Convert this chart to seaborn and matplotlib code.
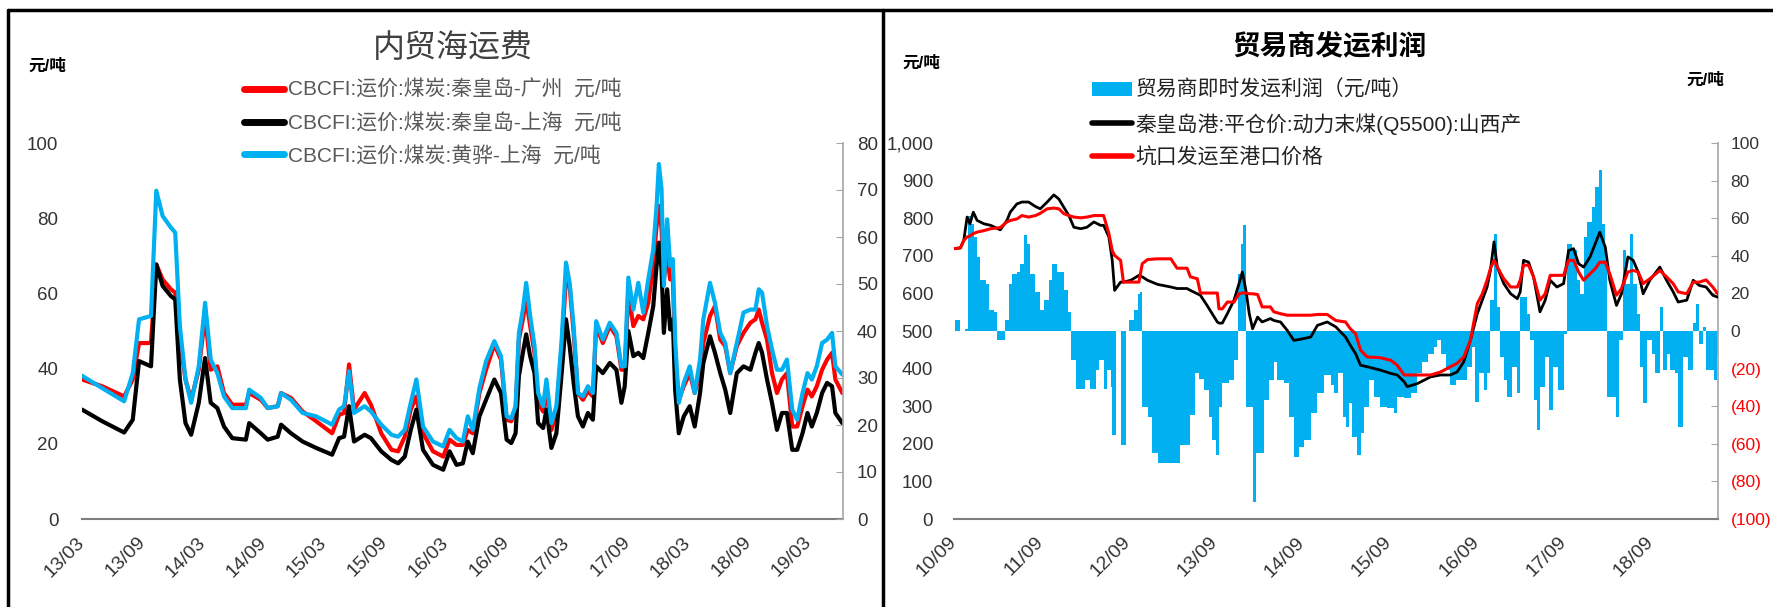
import matplotlib
matplotlib.use("Agg")
import matplotlib.pyplot as plt
import matplotlib.dates as mdates
from matplotlib.lines import Line2D
from matplotlib.patches import Patch
from matplotlib.ticker import FuncFormatter, MultipleLocator
import numpy as np
import pandas as pd
import seaborn as sns

# ---- 左图: 内贸海运费 (元/吨) ----
freight_dates = [
    "2013-03-01", "2013-05-01", "2013-07-06", "2013-08-01", "2013-08-20", "2013-09-25",
    "2013-10-11", "2013-10-30", "2013-11-24", "2013-12-07", "2013-12-21", "2014-01-07",
    "2014-01-24", "2014-02-16", "2014-03-07", "2014-03-24", "2014-04-13", "2014-05-03",
    "2014-05-28", "2014-07-08", "2014-07-18", "2014-08-22", "2014-09-12", "2014-10-12",
    "2014-10-22", "2014-11-21", "2014-12-26", "2015-02-05", "2015-03-25", "2015-04-15",
    "2015-04-30", "2015-05-15", "2015-05-30", "2015-07-01", "2015-07-20", "2015-08-20",
    "2015-09-20", "2015-10-10", "2015-10-30", "2015-11-17", "2015-12-04", "2015-12-24",
    "2016-01-23", "2016-02-23", "2016-03-13", "2016-04-03", "2016-04-22", "2016-05-07",
    "2016-05-22", "2016-06-11", "2016-07-01", "2016-07-26", "2016-08-15", "2016-09-01",
    "2016-09-15", "2016-09-28", "2016-10-08", "2016-10-20", "2016-10-30", "2016-11-11",
    "2016-11-24", "2016-12-05", "2016-12-20", "2016-12-30", "2017-01-14", "2017-01-29",
    "2017-02-14", "2017-02-27", "2017-03-10", "2017-03-22", "2017-04-04", "2017-04-19",
    "2017-05-04", "2017-05-19", "2017-05-29", "2017-06-18", "2017-07-09", "2017-07-29",
    "2017-08-13", "2017-08-23", "2017-09-03", "2017-09-18", "2017-10-03", "2017-10-18",
    "2017-11-02", "2017-11-17", "2017-11-27", "2017-12-04", "2017-12-12", "2017-12-19",
    "2017-12-29", "2018-01-07", "2018-01-15", "2018-01-22", "2018-02-02", "2018-02-17",
    "2018-03-07", "2018-03-22", "2018-04-07", "2018-04-17", "2018-05-07", "2018-05-22",
    "2018-06-07", "2018-06-22", "2018-07-07", "2018-07-27", "2018-08-16", "2018-09-06",
    "2018-09-21", "2018-10-01", "2018-10-11", "2018-10-26", "2018-11-10", "2018-11-25",
    "2018-12-10", "2018-12-25", "2019-01-10", "2019-01-25", "2019-02-10", "2019-02-25",
    "2019-03-10", "2019-03-25", "2019-04-10", "2019-04-25", "2019-05-10", "2019-05-20",
    "2019-06-10",
]
qhd_gz = [
    37.1, 35.3, 32.6, 37.1, 46.8, 46.8, 67.7, 63.7, 61.1, 60.2, 47.7, 37.1,
    31.7, 39.7, 54.0, 39.7, 40.6, 33.5, 30.4, 30.4, 33.5, 31.7, 29.5, 30.0,
    33.5, 32.2, 28.6, 26.0, 22.8, 27.7, 28.2, 41.1, 29.1, 33.5, 30.4, 22.8,
    18.4, 18.0, 21.9, 29.1, 32.6, 22.8, 18.0, 16.6, 21.1, 19.7, 19.7, 23.7,
    22.8, 33.5, 39.7, 46.4, 42.4, 26.4, 26.0, 29.1, 47.7, 53.1, 58.4, 51.3,
    44.2, 30.9, 28.6, 34.4, 23.7, 28.2, 46.0, 63.7, 62.0, 49.5, 33.5, 31.7,
    34.0, 32.6, 51.3, 46.8, 51.3, 48.6, 39.7, 39.7, 60.2, 51.3, 54.0, 53.1,
    57.5, 67.3, 77.9, 83.3, 77.1, 63.7, 70.0, 63.7, 64.6, 43.3, 31.7, 35.3,
    38.8, 33.5, 38.8, 46.8, 54.0, 56.6, 47.7, 46.0, 38.8, 46.0, 49.5, 52.2,
    53.1, 55.7, 52.2, 47.7, 38.8, 33.5, 37.1, 38.8, 24.6, 24.6, 30.0, 34.4,
    32.6, 35.3, 39.7, 42.4, 44.2, 37.1, 33.5,
]
qhd_sh = [
    29.1, 26.0, 23.0, 26.4, 42.0, 40.6, 67.7, 62.0, 59.3, 58.4, 37.1, 25.5,
    22.4, 30.9, 42.8, 30.9, 29.5, 24.6, 21.5, 21.1, 25.5, 22.8, 21.1, 21.9,
    25.1, 22.8, 20.6, 18.9, 17.1, 21.5, 21.9, 30.0, 20.6, 22.4, 21.5, 18.0,
    15.7, 14.8, 16.6, 23.7, 29.1, 18.4, 14.4, 13.1, 18.0, 14.4, 14.8, 20.6,
    17.5, 27.3, 31.7, 37.1, 33.5, 21.1, 20.2, 22.8, 38.0, 44.2, 49.1, 43.3,
    38.8, 25.5, 24.2, 29.1, 18.9, 22.8, 38.8, 53.1, 46.0, 36.2, 27.3, 24.6,
    28.2, 26.4, 40.6, 38.8, 41.5, 39.7, 30.9, 35.3, 50.0, 43.3, 44.2, 42.8,
    49.5, 56.6, 67.3, 73.5, 66.4, 49.5, 61.1, 50.4, 53.1, 34.4, 22.8, 27.3,
    30.0, 24.6, 33.5, 41.5, 48.6, 44.2, 38.8, 34.4, 28.2, 38.8, 40.6, 39.7,
    44.2, 46.8, 44.2, 37.1, 30.9, 23.7, 28.2, 28.2, 18.4, 18.4, 22.8, 28.2,
    24.6, 28.2, 33.5, 36.2, 35.3, 28.2, 25.5,
]
hh_sh = [
    38.1, 34.8, 31.3, 38.8, 53.1, 54.0, 87.3, 80.6, 77.5, 76.2, 51.3, 37.1,
    30.9, 40.6, 57.5, 42.4, 38.8, 32.6, 29.5, 29.5, 34.4, 32.2, 29.5, 30.0,
    33.5, 31.7, 28.2, 27.3, 25.1, 29.1, 30.0, 39.3, 28.2, 30.0, 28.6, 25.1,
    22.4, 21.9, 23.7, 30.9, 37.1, 24.6, 20.6, 19.3, 23.7, 21.5, 20.6, 27.3,
    23.7, 34.8, 42.0, 47.3, 43.3, 27.3, 26.8, 30.0, 49.5, 55.7, 62.8, 54.0,
    46.0, 33.5, 30.0, 37.1, 25.5, 30.0, 47.7, 68.2, 62.8, 51.3, 33.5, 32.6,
    35.3, 33.5, 52.6, 47.7, 52.2, 49.5, 40.6, 40.6, 64.2, 55.7, 62.8, 54.9,
    63.7, 71.7, 83.3, 94.4, 87.7, 62.0, 79.7, 67.3, 69.1, 47.7, 30.9, 36.2,
    40.6, 33.5, 42.4, 53.1, 62.8, 57.5, 49.5, 46.8, 38.8, 46.8, 54.9, 55.7,
    55.7, 61.1, 60.2, 51.3, 45.1, 39.7, 39.7, 42.4, 29.1, 26.4, 33.5, 38.8,
    37.1, 40.6, 46.8, 47.7, 49.5, 40.6, 38.4,
]
freight_labels = [
    "CBCFI:运价:煤炭:秦皇岛-广州  元/吨",
    "CBCFI:运价:煤炭:秦皇岛-上海  元/吨",
    "CBCFI:运价:煤炭:黄骅-上海  元/吨",
]

# ---- 右图: 贸易商发运利润 ----
price_dates = [
    "2010-09-01", "2010-09-28", "2010-10-12", "2010-10-26", "2010-11-07", "2010-11-21",
    "2010-12-07", "2011-01-05", "2011-02-02", "2011-03-14", "2011-04-11", "2011-04-25",
    "2011-05-23", "2011-06-13", "2011-07-11", "2011-08-09", "2011-08-29", "2011-09-27",
    "2011-10-25", "2011-11-15", "2011-12-06", "2011-12-27", "2012-01-17", "2012-02-15",
    "2012-03-12", "2012-04-10", "2012-05-08", "2012-05-21", "2012-06-12", "2012-06-26",
    "2012-07-06", "2012-07-31", "2012-08-12", "2012-09-12", "2012-10-16", "2012-10-30",
    "2012-11-21", "2013-01-02", "2013-02-27", "2013-03-25", "2013-05-06", "2013-05-20",
    "2013-06-18", "2013-07-01", "2013-07-29", "2013-09-10", "2013-09-17", "2013-10-01",
    "2013-10-22", "2013-11-19", "2013-12-10", "2013-12-24", "2014-01-08", "2014-01-22",
    "2014-02-05", "2014-02-26", "2014-03-17", "2014-04-21", "2014-05-05", "2014-06-02",
    "2014-06-30", "2014-07-28", "2014-09-09", "2014-10-07", "2014-11-04", "2014-12-15",
    "2015-01-20", "2015-03-02", "2015-03-22", "2015-04-13", "2015-05-04", "2015-06-01",
    "2015-07-26", "2015-09-08", "2015-10-05", "2015-11-03", "2015-11-16", "2015-12-28",
    "2016-02-22", "2016-04-04", "2016-05-15", "2016-06-12", "2016-07-10", "2016-08-07",
    "2016-09-05", "2016-09-26", "2016-10-16", "2016-10-30", "2016-11-14", "2016-11-28",
    "2016-12-25", "2017-01-23", "2017-02-20", "2017-03-04", "2017-03-18", "2017-04-08",
    "2017-04-29", "2017-05-26", "2017-06-17", "2017-07-08", "2017-08-05", "2017-09-02",
    "2017-09-23", "2017-10-14", "2017-11-04", "2017-11-25", "2017-12-22", "2018-01-13",
    "2018-02-01", "2018-02-24", "2018-03-15", "2018-04-12", "2018-05-03", "2018-05-30",
    "2018-06-21", "2018-07-12", "2018-08-02", "2018-08-30", "2018-10-11", "2018-11-08",
    "2018-12-06", "2018-12-27", "2019-02-01", "2019-02-28", "2019-03-26", "2019-04-23",
    "2019-05-21", "2019-06-11",
]
qhd_q5500 = [
    719, 721, 741, 803, 785, 816, 794, 785, 781, 769, 794, 816,
    838, 843, 843, 831, 825, 843, 862, 851, 829, 807, 776, 772,
    776, 790, 781, 781, 750, 688, 608, 630, 630, 635, 648, 644,
    635, 624, 617, 613, 613, 608, 599, 595, 568, 524, 521, 521,
    546, 582, 626, 657, 608, 546, 506, 537, 524, 533, 528, 524,
    502, 475, 480, 484, 515, 524, 511, 484, 462, 440, 409, 405,
    396, 387, 383, 365, 352, 360, 378, 383, 383, 391, 418, 475,
    546, 582, 617, 661, 737, 670, 626, 599, 586, 604, 688, 683,
    644, 551, 582, 635, 617, 626, 714, 719, 679, 670, 697, 732,
    763, 723, 635, 568, 599, 697, 688, 657, 599, 635, 670, 635,
    604, 577, 582, 635, 621, 617, 595, 590,
]
mine_to_port = [
    719, 721, 741, 750, 753, 759, 763, 767, 772, 775, 790, 794,
    798, 807, 803, 807, 813, 825, 827, 825, 812, 807, 803, 801,
    803, 807, 807, 807, 759, 714, 701, 688, 630, 630, 630, 679,
    690, 692, 692, 667, 667, 644, 639, 601, 601, 601, 559, 559,
    577, 577, 599, 601, 601, 599, 599, 597, 564, 564, 551, 546,
    542, 542, 542, 542, 544, 544, 528, 524, 506, 493, 449, 431,
    429, 422, 409, 383, 383, 383, 383, 391, 405, 414, 431, 475,
    573, 599, 635, 666, 688, 670, 639, 617, 617, 635, 675, 675,
    644, 582, 599, 648, 648, 648, 688, 688, 657, 635, 652, 666,
    683, 683, 652, 595, 613, 657, 661, 657, 626, 639, 661, 644,
    626, 604, 599, 630, 630, 636, 617, 599,
]
profit_dates = [
    "2010-09-04", "2010-09-28", "2010-10-19", "2010-10-29", "2010-11-10", "2010-11-24",
    "2010-12-07", "2010-12-21", "2011-01-12", "2011-01-26", "2011-02-16", "2011-03-01",
    "2011-03-21", "2011-04-05", "2011-04-19", "2011-05-02", "2011-05-23", "2011-06-07",
    "2011-06-21", "2011-07-04", "2011-07-18", "2011-08-09", "2011-08-29", "2011-09-13",
    "2011-10-04", "2011-10-18", "2011-11-08", "2011-12-06", "2011-12-22", "2012-01-03",
    "2012-01-24", "2012-02-15", "2012-03-05", "2012-03-26", "2012-04-17", "2012-05-01",
    "2012-05-21", "2012-06-05", "2012-06-19", "2012-06-27", "2012-07-13", "2012-08-03",
    "2012-08-21", "2012-09-04", "2012-09-25", "2012-10-12", "2012-10-20", "2012-10-30",
    "2012-11-21", "2012-12-11", "2013-01-02", "2013-02-13", "2013-03-25", "2013-04-08",
    "2013-05-06", "2013-05-20", "2013-06-10", "2013-06-24", "2013-07-15", "2013-08-06",
    "2013-08-20", "2013-09-03", "2013-09-17", "2013-10-01", "2013-10-29", "2013-11-19",
    "2013-12-06", "2013-12-17", "2013-12-28", "2014-01-09", "2014-01-22", "2014-02-05",
    "2014-02-19", "2014-03-10", "2014-03-24", "2014-04-14", "2014-05-05", "2014-05-19",
    "2014-06-16", "2014-07-07", "2014-07-28", "2014-08-18", "2014-09-09", "2014-10-07",
    "2014-11-04", "2014-12-02", "2014-12-30", "2015-01-14", "2015-01-28", "2015-02-18",
    "2015-03-02", "2015-03-16", "2015-03-30", "2015-04-20", "2015-05-04", "2015-05-18",
    "2015-06-08", "2015-06-29", "2015-07-26", "2015-08-24", "2015-09-21", "2015-10-05",
    "2015-11-03", "2015-12-01", "2015-12-28", "2016-01-18", "2016-02-09", "2016-03-06",
    "2016-03-20", "2016-04-04", "2016-04-25", "2016-05-15", "2016-06-06", "2016-07-03",
    "2016-07-24", "2016-08-14", "2016-08-28", "2016-09-12", "2016-10-03", "2016-10-16",
    "2016-10-30", "2016-11-14", "2016-11-28", "2016-12-11", "2016-12-25", "2017-01-09",
    "2017-01-30", "2017-02-20", "2017-03-04", "2017-03-18", "2017-04-01", "2017-04-15",
    "2017-04-29", "2017-05-12", "2017-05-26", "2017-06-17", "2017-07-01", "2017-07-21",
    "2017-08-11", "2017-09-02", "2017-09-16", "2017-10-06", "2017-10-27", "2017-11-10",
    "2017-11-25", "2017-12-08", "2017-12-29", "2018-01-13", "2018-01-27", "2018-02-10",
    "2018-02-24", "2018-03-04", "2018-03-22", "2018-04-09", "2018-04-23", "2018-05-10",
    "2018-05-23", "2018-06-07", "2018-06-21", "2018-07-05", "2018-07-19", "2018-08-02",
    "2018-08-16", "2018-09-06", "2018-09-20", "2018-10-11", "2018-10-25", "2018-11-08",
    "2018-11-22", "2018-12-13", "2018-12-27", "2019-01-17", "2019-02-08", "2019-02-28",
    "2019-03-12", "2019-03-26", "2019-04-09", "2019-04-23", "2019-05-14", "2019-05-28",
    "2019-06-09",
]
trader_profit = [
    5.7, 0.0, 1.0, 61.0, 57.0, 50.0, 39.4, 27.0, 25.2, 11.0, 10.1, -4.9,
    -4.9, 5.7, 25.2, 30.5, 31.4, 35.8, 50.9, 46.4, 30.5, 20.8, 11.0, 16.3,
    27.0, 35.8, 31.4, 21.6, 10.1, -15.5, -30.6, -30.6, -26.1, -30.6, -20.8, -15.5,
    -30.6, -20.8, -29.7, -55.3, 0.0, -60.7, 0.0, 5.7, 11.0, 19.9, 20.8, -40.3,
    -45.6, -65.1, -70.4, -70.4, -70.4, -60.7, -60.7, -44.7, -22.6, -25.3, -31.5, -45.6,
    -58.0, -66.0, -40.3, -27.9, -26.1, -15.5, 30.5, 46.4, 56.2, -40.3, -40.3, -90.7,
    -65.1, -65.1, -36.8, -26.1, -16.4, -26.1, -27.9, -45.6, -66.9, -61.6, -58.0, -43.8,
    -33.2, -23.5, -28.8, -33.2, -22.6, -45.6, -50.9, -38.5, -56.2, -66.0, -54.5, -40.3,
    -26.1, -35.0, -40.3, -41.2, -43.8, -35.0, -35.9, -33.2, -22.6, -16.4, -12.0, -8.4,
    -4.9, -12.0, -20.8, -28.8, -26.1, -26.1, -19.1, -8.4, -37.6, -22.6, -31.5, -22.6,
    16.3, 51.7, 12.8, -13.7, -26.1, -35.0, -19.1, -33.2, 18.1, 18.1, 9.3, -4.9,
    -36.8, -52.7, -29.7, -13.7, -42.1, -19.1, -31.5, -1.4, 46.4, 42.9, 27.0, 19.9,
    50.0, 57.9, 65.9, 76.5, 85.4, 57.0, 37.6, -35.0, -35.0, -45.6, -4.9, 42.9,
    25.2, 51.7, 25.2, 9.3, -19.1, -38.5, -4.9, -12.0, -22.6, 12.8, -20.8, -12.0,
    -20.8, -22.6, -50.9, -13.7, -20.8, 4.0, 14.6, -6.7, 2.2, -20.8, -20.8, -26.1,
    -12.0,
]
profit_labels = ["贸易商即时发运利润（元/吨）", "秦皇岛港:平仓价:动力末煤(Q5500):山西产", "坑口发运至港口价格"]

W, H = 1773, 607
RED, BLACK, CYAN = "#FF0000", "#000000", "#00B0F0"
TICK_FS = 13.5


def fx(px):
    return px / W


def fy(py):
    return 1 - py / H


sns.set_style("white")
plt.rcParams["font.family"] = ["Liberation Sans", "Noto Sans CJK SC", "DejaVu Sans"]
plt.rcParams["axes.unicode_minus"] = False

fig = plt.figure(figsize=(W / 100, H / 100), dpi=100)

# ================= 左图 =================
ax = fig.add_axes([fx(82), fy(519), fx(843) - fx(82), fy(143) - fy(519)])
fd = pd.to_datetime(freight_dates)
sns.lineplot(x=fd, y=qhd_gz, ax=ax, color=RED, lw=3.0, legend=False)
sns.lineplot(x=fd, y=qhd_sh, ax=ax, color=BLACK, lw=3.0, legend=False)
sns.lineplot(x=fd, y=hh_sh, ax=ax, color=CYAN, lw=3.0, legend=False)
ax.set_xlim(pd.Timestamp("2013-03-01"), pd.Timestamp("2019-06-12"))
ax.set_ylim(0, 100)
ax.yaxis.set_major_locator(MultipleLocator(20))
ax.xaxis.set_major_locator(mdates.MonthLocator(bymonth=[3, 9]))
ax.xaxis.set_major_formatter(mdates.DateFormatter("%y/%m"))
ax.set_xlabel("")
ax.set_ylabel("")
for s in ["top", "left", "right"]:
    ax.spines[s].set_visible(False)
ax.spines["bottom"].set_color("#7f7f7f")
ax.spines["bottom"].set_linewidth(1.5)
ax.tick_params(axis="y", length=0, pad=17, labelsize=TICK_FS, labelcolor="#333333")
ax.tick_params(axis="x", direction="out", length=6, width=1.2, color="#7f7f7f",
               pad=9, labelsize=14, labelcolor="#333333")
for lab in ax.get_xticklabels():
    lab.set_rotation(45)
    lab.set_ha("right")
    lab.set_va("center")
    lab.set_rotation_mode("anchor")

ax2 = ax.twinx()
ax2.set_ylim(0, 80)
ax2.yaxis.set_major_locator(MultipleLocator(10))
for s in ["top", "left", "bottom"]:
    ax2.spines[s].set_visible(False)
ax2.spines["right"].set_color("#a6a6a6")
ax2.spines["right"].set_linewidth(1.2)
ax2.tick_params(axis="y", direction="in", length=5, color="#a6a6a6", pad=10,
                labelsize=TICK_FS, labelcolor="#333333")

fig.text(fx(453), fy(48), "内贸海运费", ha="center", va="center", fontsize=23,
         color="#404040", family=["Noto Sans CJK SC"])
fig.text(fx(28), fy(66), "元/吨", ha="left", va="center", fontsize=12,
         fontweight="bold", color="black")

left_handles = [Line2D([], [], color=c, lw=5) for c in (RED, BLACK, CYAN)]
fig.legend(left_handles, freight_labels, loc="upper left",
           bbox_to_anchor=(fx(244), fy(80)), frameon=False, fontsize=15,
           handlelength=1.9, handletextpad=0.2, labelspacing=0.62,
           borderpad=0, borderaxespad=0, labelcolor="#595959")

# ================= 右图 =================
bx = fig.add_axes([fx(954), fy(519), fx(1718) - fx(954), fy(143) - fy(519)])
bx2 = bx.twinx()

pdts = mdates.date2num(pd.to_datetime(profit_dates))
widths = np.append(np.diff(pdts), 14)
bx2.bar(pdts, trader_profit, width=widths, align="edge", color=CYAN, linewidth=0)
bx2.set_ylim(-100, 100)
bx2.yaxis.set_major_locator(MultipleLocator(20))


def paren_fmt(v, pos):
    if v < 0:
        return "({:.0f})".format(-v)
    return "{:.0f}".format(v)


bx2.yaxis.set_major_formatter(FuncFormatter(paren_fmt))
for s in ["top", "left", "bottom"]:
    bx2.spines[s].set_visible(False)
bx2.spines["right"].set_color("#a6a6a6")
bx2.spines["right"].set_linewidth(1.2)
bx2.tick_params(axis="y", direction="in", length=5, color="#a6a6a6", pad=9,
                labelsize=12.5, labelcolor="#333333")
fig.canvas.draw()
for lab, val in zip(bx2.get_yticklabels(), bx2.get_yticks()):
    if val < 0:
        lab.set_color(RED)

prd = pd.to_datetime(price_dates)
sns.lineplot(x=prd, y=qhd_q5500, ax=bx, color=BLACK, lw=2.0, legend=False)
sns.lineplot(x=prd, y=mine_to_port, ax=bx, color=RED, lw=2.2, legend=False)
bx.set_zorder(bx2.get_zorder() + 1)
bx.patch.set_visible(False)
bx.set_xlim(pd.Timestamp("2010-09-01"), pd.Timestamp("2019-06-12"))
bx.set_ylim(0, 1000)
bx.yaxis.set_major_locator(MultipleLocator(100))
bx.yaxis.set_major_formatter(FuncFormatter(lambda v, p: "{:,.0f}".format(v)))
bx.xaxis.set_major_locator(mdates.MonthLocator(bymonth=[9]))
bx.xaxis.set_major_formatter(mdates.DateFormatter("%y/%m"))
bx.set_xlabel("")
bx.set_ylabel("")
for s in ["top", "left", "right"]:
    bx.spines[s].set_visible(False)
bx.spines["bottom"].set_color("#7f7f7f")
bx.spines["bottom"].set_linewidth(1.5)
bx.tick_params(axis="y", length=0, pad=15, labelsize=TICK_FS, labelcolor="#333333")
bx.tick_params(axis="x", direction="out", length=6, width=1.2, color="#7f7f7f",
               pad=9, labelsize=14, labelcolor="#333333")
for lab in bx.get_xticklabels():
    lab.set_rotation(45)
    lab.set_ha("right")
    lab.set_va("center")
    lab.set_rotation_mode("anchor")

fig.text(fx(1330), fy(46), "贸易商发运利润", ha="center", va="center", fontsize=20,
         fontweight="bold", color="black", family=["Noto Sans CJK SC"])
fig.text(fx(902), fy(63), "元/吨", ha="left", va="center", fontsize=12,
         fontweight="bold", color="black")
fig.text(fx(1686), fy(80), "元/吨", ha="left", va="center", fontsize=12,
         fontweight="bold", color="black")

right_handles = [Patch(facecolor=CYAN, edgecolor="none"),
                 Line2D([], [], color=BLACK, lw=4),
                 Line2D([], [], color=RED, lw=4)]
fig.legend(right_handles, profit_labels, loc="upper left",
           bbox_to_anchor=(fx(1092), fy(80)), frameon=False, fontsize=15,
           handlelength=1.9, handletextpad=0.2, labelspacing=0.62,
           borderpad=0, borderaxespad=0, labelcolor="#222222")

# 面板边框
for xs, ys in [((8, W), (10, 10)), ((8, 8), (10, H)), ((883, 883), (10, H))]:
    fig.add_artist(Line2D([fx(xs[0]), fx(xs[1])], [fy(ys[0]), fy(ys[1])],
                          transform=fig.transFigure, color="black", lw=2.5))

fig.savefig("out.png", dpi=100)
